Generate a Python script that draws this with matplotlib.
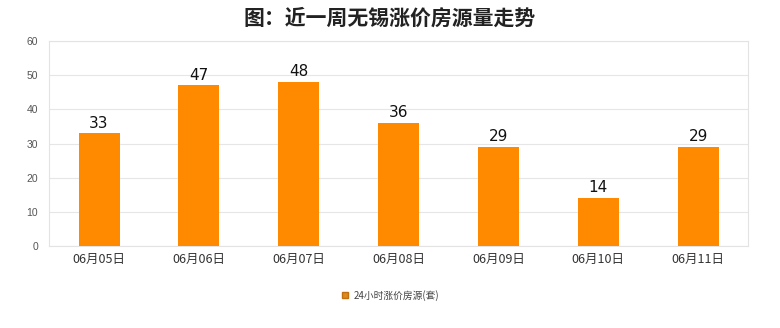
import matplotlib
matplotlib.use("Agg")
import matplotlib.pyplot as plt
from matplotlib.lines import Line2D

plt.rcParams['font.family'] = ['Noto Sans CJK SC', 'DejaVu Sans']

categories = ["06月05日", "06月06日", "06月07日", "06月08日", "06月09日", "06月10日", "06月11日"]
values = [33, 47, 48, 36, 29, 14, 29]
series_name = "24小时涨价房源(套)"
title = "图：近一周无锡涨价房源量走势"
yticks = [0, 10, 20, 30, 40, 50, 60]

bar_color = "#FF8A00"

fig = plt.figure(figsize=(7.8, 3.28), dpi=100)
ax = fig.add_axes([0.063, 0.25, 0.896, 0.625])

x = list(range(len(categories)))
ax.bar(x, values, width=0.41, color=bar_color, zorder=3)
for xi, v in zip(x, values):
    ax.text(xi, v + 0.8, str(v), ha='center', va='bottom', fontsize=11,
            family=['DejaVu Sans'], color='#111111', zorder=4)

ax.set_xlim(-0.5, len(categories) - 0.5)
ax.set_ylim(0, 60)
ax.set_yticks(yticks)
ax.set_yticklabels([str(t) for t in yticks], family=['Liberation Sans', 'DejaVu Sans'])
ax.set_xticks(x)
ax.set_xticklabels(categories, fontsize=9, color='#333333')
ax.tick_params(axis='y', labelsize=7.5, colors='#555555', length=0, pad=8)
ax.tick_params(axis='x', length=0, pad=5)
ax.grid(axis='y', color='#E6E6E6', linewidth=0.8, zorder=0)
for s in ax.spines.values():
    s.set_color('#E3E3E3')
    s.set_linewidth(0.8)

fig.text(0.5, 0.945, title, ha='center', va='center', fontsize=15, fontweight='bold', color='#222222')

handle = Line2D([0], [0], marker='s', color='none', markerfacecolor='#E08A1E',
                markeredgecolor='#C07010', markersize=5)
fig.legend([handle], [series_name], loc='center', bbox_to_anchor=(0.5, 0.1),
           frameon=False, fontsize=7, handletextpad=0.4, handlelength=1.0,
           labelcolor='#444444')

fig.savefig("out.png", dpi=100, facecolor='white')
